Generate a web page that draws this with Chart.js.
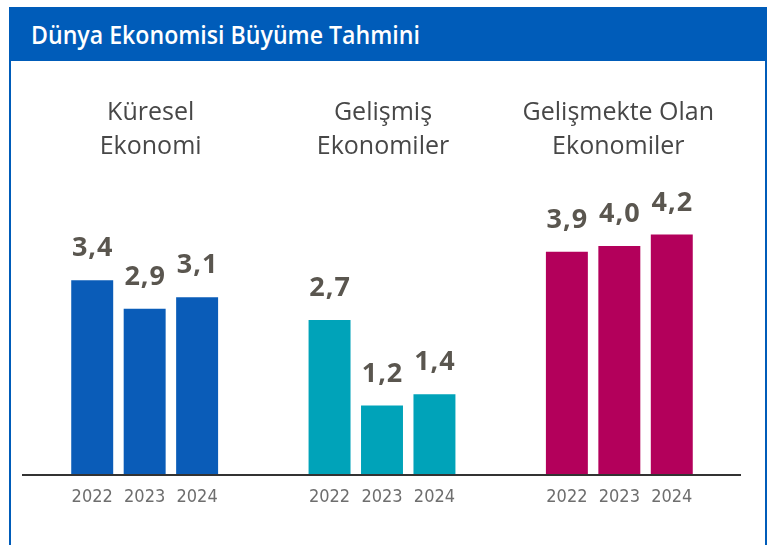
<!DOCTYPE html>
<html>
<head>
<meta charset="utf-8">
<script src="https://cdn.jsdelivr.net/npm/chart.js@4"></script>
<style>
  html, body { margin: 0; padding: 0; background: #fff; }
  #wrap { position: relative; width: 774px; height: 545px; overflow: hidden; }
  #frame {
    position: absolute; left: 9px; top: 7px; width: 754px; height: 560px;
    border: 2px solid #005cb9; border-top: none;
  }
  #head {
    position: absolute; left: 9px; top: 7px; width: 758px; height: 54px;
    background: #005cb9; color: #fff;
    font-family: "Open Sans", sans-serif; font-weight: 600;
    font-size: 26px; line-height: 54px; padding-left: 22px; box-sizing: border-box;
  }
  #head span { display: inline-block; transform: scaleX(0.89); transform-origin: left center; }
  canvas { position: absolute; left: 0; top: 0; }
</style>
</head>
<body>
<div id="wrap">
  <div id="frame"></div>
  <div id="head"><span>Dünya Ekonomisi Büyüme Tahmini</span></div>
  <canvas id="c" width="774" height="545"></canvas>
</div>
<script>
const groups = [["Küresel", "Ekonomi"], ["Gelişmiş", "Ekonomiler"], ["Gelişmekte Olan", "Ekonomiler"]];
const years = ["2022", "2023", "2024"];
// one array per year, in group order
const v2022 = [3.4, 2.7, 3.9];
const v2023 = [2.9, 1.2, 4.0];
const v2024 = [3.1, 1.4, 4.2];
const groupColors = ["#0a5cb8", "#00a3b9", "#b3005b"];

const labelsPlugin = {
  id: "labels",
  afterDatasetsDraw(chart) {
    const ctx = chart.ctx;
    const area = chart.chartArea;
    const xs = chart.scales.x;
    ctx.save();
    // baseline
    ctx.strokeStyle = "#333";
    ctx.lineWidth = 2;
    ctx.beginPath();
    ctx.moveTo(area.left - 4, area.bottom + 1);
    ctx.lineTo(area.right + 3, area.bottom + 1);
    ctx.stroke();

    ctx.textAlign = "center";
    ctx.textBaseline = "alphabetic";
    chart.data.datasets.forEach((ds, di) => {
      const meta = chart.getDatasetMeta(di);
      meta.data.forEach((bar, i) => {
        ctx.fillStyle = "#5a564f";
        ctx.font = "bold 27px 'Open Sans'";
        ctx.letterSpacing = "1px";
        ctx.fillText(ds.data[i].toFixed(1).replace(".", ","), bar.x + 0.5, bar.y - 24);
        ctx.letterSpacing = "0px";
        ctx.fillStyle = "#6e6e6e";
        ctx.font = "18px 'DejaVu Sans Condensed'";
        ctx.fillText(ds.label, bar.x, area.bottom + 28);
      });
    });
    // group titles (first one sits a little right of its bars)
    const nudge = [6, 1, -1];
    ctx.fillStyle = "#474747";
    ctx.font = "25px 'Open Sans'";
    groups.forEach((lines, i) => {
      const x = xs.getPixelForValue(i) + nudge[i];
      lines.forEach((t, k) => ctx.fillText(t, x, 120 + k * 34));
    });
    ctx.restore();
  }
};

new Chart(document.getElementById("c"), {
  type: "bar",
  data: {
    labels: groups.map(g => g.join(" ")),
    datasets: [
      { label: years[0], data: v2022, backgroundColor: groupColors },
      { label: years[1], data: v2023, backgroundColor: groupColors },
      { label: years[2], data: v2024, backgroundColor: groupColors }
    ]
  },
  options: {
    responsive: false,
    animation: false,
    layout: { padding: { left: 26, right: 36, top: 189, bottom: 71 } },
    categoryPercentage: 0.663,
    barPercentage: 0.8,
    plugins: { legend: { display: false }, tooltip: { enabled: false } },
    scales: {
      x: { display: false },
      y: { display: false, min: 0, max: 5 }
    }
  },
  plugins: [labelsPlugin]
});
</script>
</body>
</html>
